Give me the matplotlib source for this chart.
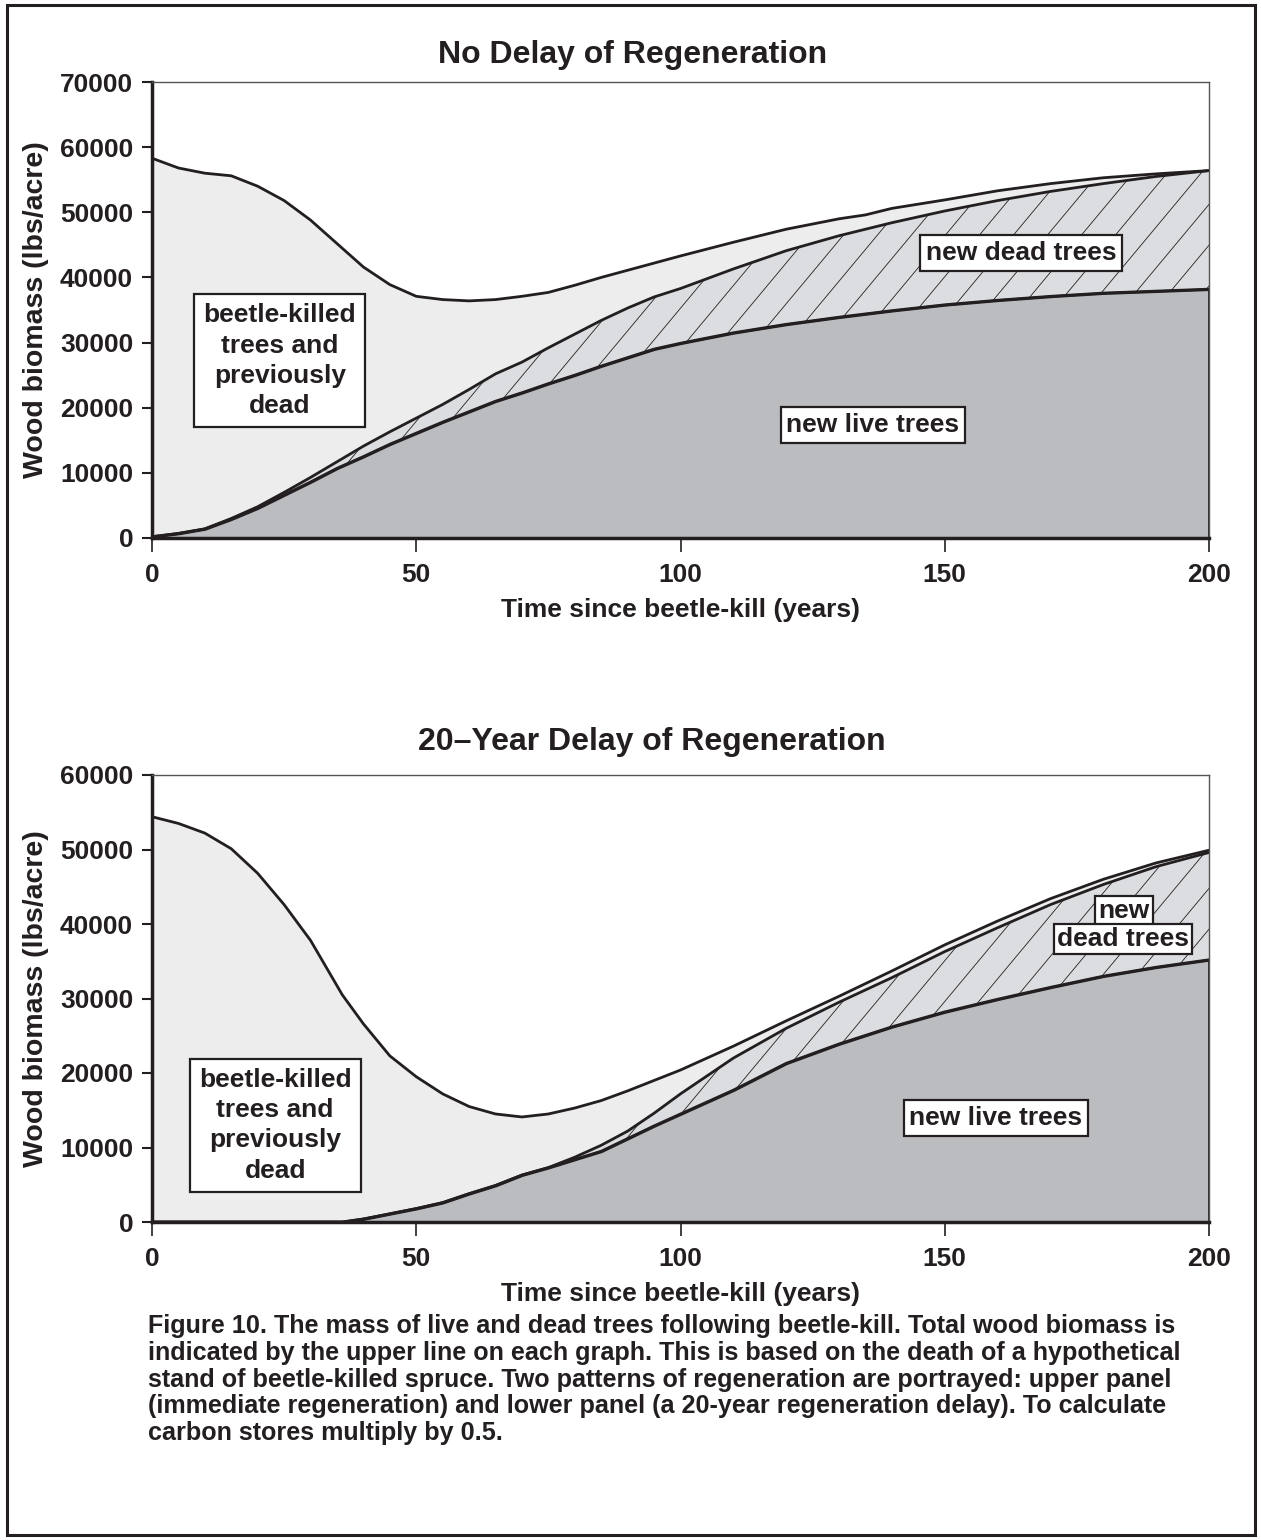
import numpy as np
import matplotlib
matplotlib.use('Agg')
import matplotlib.pyplot as plt
from matplotlib.collections import LineCollection
from matplotlib.patches import Rectangle

plt.rcParams['font.family'] = ['Liberation Sans', 'DejaVu Sans']
plt.rcParams['font.weight'] = 'bold'
plt.rcParams['axes.labelweight'] = 'bold'

INK = '#231f20'

# ---- data (thousands of lbs/acre) ----
# upper panel: no delay of regeneration
years_a = [0, 5, 10, 15, 20, 25, 30, 35, 40, 45, 50, 55, 60, 65, 70, 75, 80, 85, 90, 95,
           100, 110, 120, 130, 135, 140, 150, 160, 170, 180, 190, 200]
total_a = [58.3, 56.8, 56.0, 55.6, 54.0, 51.8, 48.8, 45.2, 41.6, 38.9, 37.1, 36.6, 36.4, 36.6, 37.1, 37.7,
           38.8, 40.0, 41.1, 42.2, 43.3, 45.4, 47.4, 49.0, 49.6, 50.6, 51.9, 53.3, 54.4, 55.3, 55.9, 56.4]
dead_top_a = [0.2, 0.7, 1.4, 3.0, 4.8, 7.0, 9.3, 11.7, 14.1, 16.3, 18.4, 20.5, 22.8, 25.2, 27.0, 29.2,
              31.3, 33.4, 35.3, 37.0, 38.3, 41.3, 44.1, 46.4, 47.4, 48.4, 50.2, 51.8, 53.2, 54.4, 55.5, 56.4]
live_a = [0.2, 0.7, 1.4, 2.9, 4.6, 6.6, 8.6, 10.7, 12.5, 14.4, 16.1, 17.8, 19.4, 21.0, 22.3, 23.7,
          25.0, 26.4, 27.7, 29.0, 29.9, 31.5, 32.8, 33.9, 34.4, 34.9, 35.8, 36.5, 37.1, 37.6, 37.9, 38.2]

# lower panel: 20-year delay of regeneration
years_b = [0, 5, 10, 15, 20, 25, 30, 36, 40, 45, 50, 55, 60, 65, 70, 75, 80, 85, 90, 95,
           100, 110, 120, 130, 140, 150, 160, 170, 180, 190, 200]
total_b = [54.4, 53.5, 52.2, 50.1, 46.8, 42.6, 37.8, 30.5, 26.6, 22.3, 19.5, 17.2, 15.5, 14.5, 14.1, 14.5,
           15.3, 16.3, 17.6, 19.0, 20.4, 23.6, 27.0, 30.3, 33.7, 37.2, 40.4, 43.4, 46.0, 48.2, 49.9]
dead_top_b = [0, 0, 0, 0, 0, 0, 0, 0, 0.4, 1.1, 1.8, 2.6, 3.8, 4.9, 6.3, 7.3, 8.7, 10.3, 12.2, 14.6,
              17.2, 22.0, 26.0, 29.5, 32.8, 36.3, 39.5, 42.6, 45.3, 47.7, 49.6]
live_b = [0, 0, 0, 0, 0, 0, 0, 0, 0.4, 1.1, 1.8, 2.6, 3.8, 4.9, 6.3, 7.3, 8.4, 9.5, 11.2, 12.9,
          14.5, 17.7, 21.3, 23.9, 26.2, 28.2, 29.9, 31.5, 33.0, 34.2, 35.2]

caption = [
    "Figure 10. The mass of live and dead trees following beetle-kill. Total wood biomass is",
    "indicated by the upper line on each graph. This is based on the death of a hypothetical",
    "stand of beetle-killed spruce. Two patterns of regeneration are portrayed: upper panel",
    "(immediate regeneration) and lower panel (a 20-year regeneration delay). To calculate",
    "carbon stores multiply by 0.5.",
]

W, H = 1261, 1540
fig = plt.figure(figsize=(W / 100, H / 100), dpi=100)


def hatch_lines(ax, poly, spacing_px=34, slope=1.2):
    # sparse diagonal hatch, clipped to the "new dead trees" band
    bb = ax.get_position()
    w_px, h_px = bb.width * W, bb.height * H
    dx = (h_px / slope) / w_px
    step = spacing_px / w_px
    segs = [[(u, 0), (u + dx, 1)] for u in np.arange(-1, 1.05, step)]
    lc = LineCollection(segs, transform=ax.transAxes, colors=INK, linewidths=0.6)
    lc.set_clip_path(poly.get_paths()[0], ax.transData)
    ax.add_collection(lc)


def panel(ax, years, total, dead_top, live, ymax):
    x = np.array(years)
    tot = np.array(total) * 1000
    mid = np.array(dead_top) * 1000
    lv = np.array(live) * 1000

    ax.fill_between(x, mid, tot, color='#ededed', lw=0)
    band = ax.fill_between(x, lv, mid, color='#dcdde0', lw=0)
    hatch_lines(ax, band)
    ax.fill_between(x, 0, lv, facecolor='#bbbcc0', edgecolor=INK, lw=2)
    ax.plot(x, tot, color=INK, lw=2, solid_joinstyle='round')
    ax.plot(x, mid, color=INK, lw=2, solid_joinstyle='round')
    ax.plot(x, lv, color=INK, lw=2, solid_joinstyle='round')

    ax.set_xlim(0, 200)
    ax.set_ylim(0, ymax)
    ax.set_xticks([0, 50, 100, 150, 200])
    ax.set_yticks(np.arange(0, ymax + 1, 10000))
    ax.set_yticklabels([str(int(v)) for v in np.arange(0, ymax + 1, 10000)])
    ax.tick_params(axis='y', direction='out', length=7.5, width=1.5, pad=6,
                   labelsize=19, colors=INK)
    ax.tick_params(axis='x', direction='out', length=10, width=1.2, pad=8,
                   labelsize=19, colors=INK)
    for s in ['top', 'right']:
        ax.spines[s].set_linewidth(1)
        ax.spines[s].set_color('#555555')
    for s in ['left', 'bottom']:
        ax.spines[s].set_linewidth(2.5)
        ax.spines[s].set_color(INK)
    ax.set_xlabel('Time since beetle-kill (years)', fontsize=19, color=INK, labelpad=8)
    ax.set_ylabel('Wood biomass (lbs/acre)', fontsize=20.5, color=INK, labelpad=8)


def box(ax, x, y, s, pad=0.3, ls=1.33):
    ax.text(x, y, s, ha='center', va='center', fontsize=19, color=INK,
            linespacing=ls, zorder=5,
            bbox=dict(boxstyle='square,pad=%s' % pad, fc='white', ec=INK, lw=1.6))


ax1 = fig.add_axes([152 / W, 1 - 538 / H, 1057 / W, 456 / H])
panel(ax1, years_a, total_a, dead_top_a, live_a, 70000)
box(ax1, 24.2, 27200, 'beetle-killed\ntrees and\npreviously\ndead', pad=0.35)
box(ax1, 164.4, 43750, 'new dead trees', pad=0.22)
box(ax1, 136.4, 17300, 'new live trees', pad=0.22)

ax2 = fig.add_axes([152 / W, 1 - 1222 / H, 1057 / W, 447 / H])
panel(ax2, years_b, total_b, dead_top_b, live_b, 60000)
box(ax2, 23.3, 13000, 'beetle-killed\ntrees and\npreviously\ndead', pad=0.35)
box(ax2, 183.9, 41700, 'new', pad=0.12)
box(ax2, 183.7, 38000, 'dead trees', pad=0.12)
box(ax2, 159.7, 13960, 'new live trees', pad=0.22)

fig.text(633 / W, 1 - 55 / H, 'No Delay of Regeneration', ha='center', va='center',
         fontsize=23, color=INK)
fig.text(652 / W, 1 - 742 / H, '20\u2013Year Delay of Regeneration', ha='center', va='center',
         fontsize=23, color=INK)

for i, line in enumerate(caption):
    fig.text(148 / W, 1 - (1326 + 26.8 * i) / H, line, ha='left', va='center',
             fontsize=18.1, color=INK)

fig.patches.append(Rectangle((7 / W, 5 / H), 1248 / W, 1530 / H, transform=fig.transFigure,
                             fill=False, lw=2.2, ec=INK))

fig.savefig('out.png', dpi=100)
